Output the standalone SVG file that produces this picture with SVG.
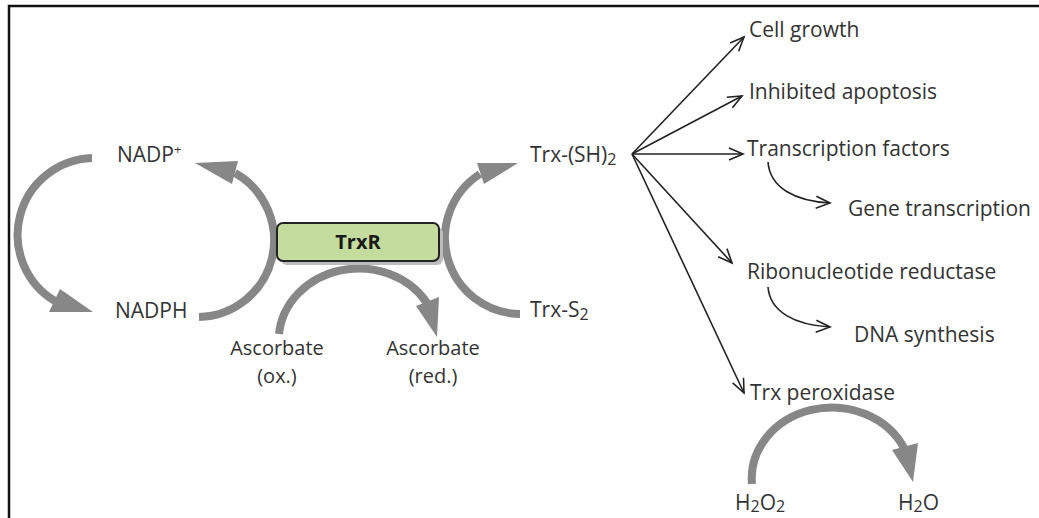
<svg xmlns="http://www.w3.org/2000/svg" width="1039" height="518" viewBox="0 0 1039 518">
<style>
.t{font-family:"Open Sans","Noto Sans","Liberation Sans",sans-serif;font-size:21px;fill:#333}
.s{font-size:20px}
.arc{fill:none;stroke:#878787;stroke-width:8}
.head{fill:#878787}
.ln{fill:none;stroke:#222;stroke-width:1.6}
</style>
<defs>
<marker id="open" markerUnits="userSpaceOnUse" markerWidth="20" markerHeight="20" refX="15" refY="7" orient="auto">
<path d="M1,1 L15,7 L1,13" fill="none" stroke="#222" stroke-width="1.6"/>
</marker>
</defs>
<rect width="1039" height="518" fill="#fff"/>
<path d="M9,518 V6 H1039" fill="none" stroke="#111" stroke-width="2.5"/>

<g id="connectors">
<path class="arc" d="M92,158 A77,77 0 0 0 55,301"/>
<polygon class="head" points="93,312 60,289 49,312"/>
<path class="arc" d="M199,317 A77,77 0 0 0 235,173"/>
<polygon class="head" points="195,163 238,161 232,184"/>
<path class="arc" d="M520,314 A76,76 0 0 1 480,174"/>
<polygon class="head" points="518,163 477,163 484,184"/>
<path class="arc" d="M279,334 A80,72 0 0 1 427,303"/>
<polygon class="head" points="437,337 416,306 439,297"/>
<path class="arc" d="M752,484 A80,71 0 0 1 904,448"/>
<polygon class="head" points="913,482 892,450 918,443"/>
<path class="ln" marker-end="url(#open)" d="M632,154 L744,37"/>
<path class="ln" marker-end="url(#open)" d="M632,154 L742,96"/>
<path class="ln" marker-end="url(#open)" d="M632,154 L743,154"/>
<path class="ln" marker-end="url(#open)" d="M632,154 L732,263"/>
<path class="ln" marker-end="url(#open)" d="M632,154 L744,393"/>
<path class="ln" marker-end="url(#open)" d="M768,162 C770,188 795,201 830,203"/>
<path class="ln" marker-end="url(#open)" d="M768,287 C770,312 795,325 830,327"/>
</g>

<g id="trxr">
<rect x="281" y="227" width="162" height="38" rx="6" fill="#bdbdbd"/>
<rect x="277" y="223" width="162" height="38" rx="6" fill="#c4dc9e" stroke="#222" stroke-width="2"/>
<text x="358" y="249" text-anchor="middle" style="font-family:'Open Sans','Liberation Sans',sans-serif;font-size:20px;font-weight:bold;fill:#1a1a1a">TrxR</text>
</g>
<g id="nadp"><text class="t" x="117" y="162">NADP<tspan font-size="13" dy="-8">+</tspan></text></g>
<g id="nadph"><text class="t" x="115" y="318">NADPH</text></g>
<g id="trxsh"><text class="t" x="530" y="162">Trx-(SH)<tspan font-size="16" dy="3">2</tspan></text></g>
<g id="trxs2"><text class="t" x="530" y="317">Trx-S<tspan font-size="16" dy="3">2</tspan></text></g>
<g id="ascox"><text class="t s" x="277" y="355" text-anchor="middle">Ascorbate</text><text class="t s" x="277" y="383" text-anchor="middle">(ox.)</text></g>
<g id="ascred"><text class="t s" x="433" y="355" text-anchor="middle">Ascorbate</text><text class="t s" x="433" y="383" text-anchor="middle">(red.)</text></g>
<g id="cellgrowth"><text class="t" x="749" y="37">Cell growth</text></g>
<g id="apoptosis"><text class="t" x="749" y="99">Inhibited apoptosis</text></g>
<g id="transcription"><text class="t" x="747" y="156">Transcription factors</text></g>
<g id="gene"><text class="t" x="848" y="216">Gene transcription</text></g>
<g id="ribo"><text class="t" x="747" y="279">Ribonucleotide reductase</text></g>
<g id="dna"><text class="t" x="854" y="342">DNA synthesis</text></g>
<g id="peroxidase"><text class="t" x="750" y="400">Trx peroxidase</text></g>
<g id="h2o2"><text class="t" x="735" y="510">H<tspan font-size="16" dy="2">2</tspan><tspan dy="-2">O</tspan><tspan font-size="16" dy="2">2</tspan></text></g>
<g id="h2o"><text class="t" x="898" y="510">H<tspan font-size="16" dy="2">2</tspan><tspan dy="-2">O</tspan></text></g>
</svg>
